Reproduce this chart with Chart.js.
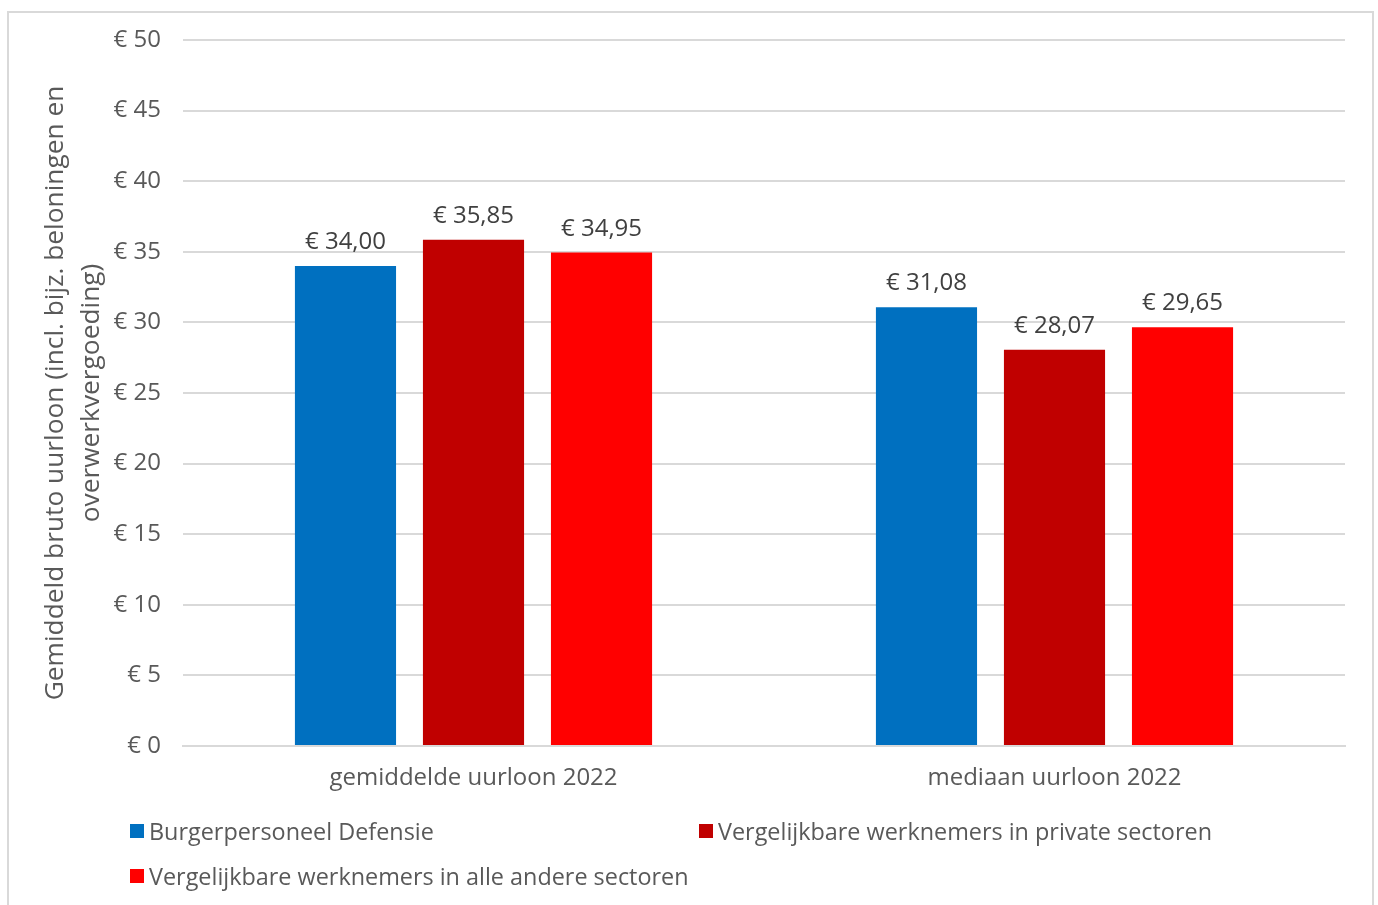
<!DOCTYPE html>
<html>
<head>
<meta charset="utf-8">
<script src="https://cdn.jsdelivr.net/npm/chart.js@4.4.0/dist/chart.umd.min.js"></script>
<style>
  html, body { margin: 0; padding: 0; background: #fff; }
  body { width: 1378px; height: 905px; position: relative; overflow: hidden; font-family: 'Open Sans', sans-serif; }
  #frame { position: absolute; left: 7px; top: 11px; width: 1367px; height: 910px; border: 2px solid #d9d9d9; box-sizing: border-box; }
  #wrap { position: absolute; left: 0; top: 0; width: 1378px; height: 905px; }
  #legend { position: absolute; left: 0; top: 0; width: 1378px; height: 905px; pointer-events: none; }
  .item { position: absolute; display: flex; align-items: center; font-size: 23.4px; color: #595959; white-space: nowrap; }
  .box { width: 14px; height: 14px; margin-right: 5px; }
</style>
</head>
<body>
<div id="frame"></div>
<div id="wrap"><canvas id="barChart" width="1378" height="905"></canvas></div>
<div id="legend"></div>
<script>
let categories = ['gemiddelde uurloon 2022', 'mediaan uurloon 2022'];
let seriesNames = [
    'Burgerpersoneel Defensie',
    'Vergelijkbare werknemers in private sectoren',
    'Vergelijkbare werknemers in alle andere sectoren'
];
let defensie = [34.00, 31.08];
let privaat = [35.85, 28.07];
let andere = [34.95, 29.65];
let colors = ['#0070C0', '#C00000', '#FF0000'];
let yTicks = [0, 5, 10, 15, 20, 25, 30, 35, 40, 45, 50];

function euro(v, dec) {
    return '€ ' + v.toFixed(dec).replace('.', ',');
}

// draws the value labels above the bars
let barLabels = {
    id: 'barLabels',
    afterDatasetsDraw(chart) {
        let ctx = chart.ctx;
        ctx.save();
        ctx.font = '24px "Open Sans"';
        ctx.fillStyle = '#404040';
        ctx.textAlign = 'center';
        ctx.textBaseline = 'alphabetic';
        chart.data.datasets.forEach((ds, i) => {
            chart.getDatasetMeta(i).data.forEach((bar, j) => {
                ctx.fillText(euro(ds.data[j], 2), bar.x, bar.y - 17);
            });
        });
        ctx.restore();
    }
};

let datasets = [defensie, privaat, andere].map((d, i) => ({
    label: seriesNames[i],
    data: d,
    backgroundColor: colors[i],
    borderWidth: 0,
    categoryPercentage: 0.661,
    barPercentage: 0.79
}));

let ctxBar = document.getElementById('barChart');

let barChart = new Chart(ctxBar, {
    type: 'bar',
    data: { labels: categories, datasets: datasets },
    plugins: [barLabels],
    options: {
        responsive: false,
        animation: false,
        layout: { padding: { top: 40, right: 33, left: 38, bottom: 0 } },
        plugins: {
            legend: { display: false },
            tooltip: { enabled: false }
        },
        scales: {
            x: {
                grid: { display: false, drawTicks: false },
                border: { color: '#d9d9d9', width: 2 },
                ticks: { color: '#595959', font: { family: 'Open Sans', size: 24 }, padding: 18 },
                afterFit(scale) { scale.height = 159; }
            },
            y: {
                min: 0,
                max: 50,
                afterBuildTicks(scale) { scale.ticks = yTicks.map(v => ({ value: v })); },
                grid: { color: '#d9d9d9', lineWidth: 2, drawTicks: false },
                border: { display: false },
                ticks: {
                    color: '#595959',
                    font: { family: 'Open Sans', size: 24 },
                    padding: 22,
                    callback: v => euro(v, 0)
                },
                title: {
                    display: true,
                    text: ['Gemiddeld bruto uurloon (incl. bijz. beloningen en', 'overwerkvergoeding)'],
                    color: '#595959',
                    font: { family: 'Open Sans', size: 26.3, lineHeight: 1.35 },
                    padding: 0
                },
                afterFit(scale) { scale.width = 145; }
            }
        }
    }
});

// legend in two columns like the original
let legendPos = [[130, 831], [699, 831], [130, 876]];
let legendDiv = document.getElementById('legend');
seriesNames.forEach((name, i) => {
    let el = document.createElement('div');
    el.className = 'item';
    el.style.left = legendPos[i][0] + 'px';
    el.style.top = (legendPos[i][1] - 16) + 'px';
    el.innerHTML = '<span class="box" style="background:' + colors[i] + '"></span><span>' + name + '</span>';
    legendDiv.appendChild(el);
});
</script>
</body>
</html>
